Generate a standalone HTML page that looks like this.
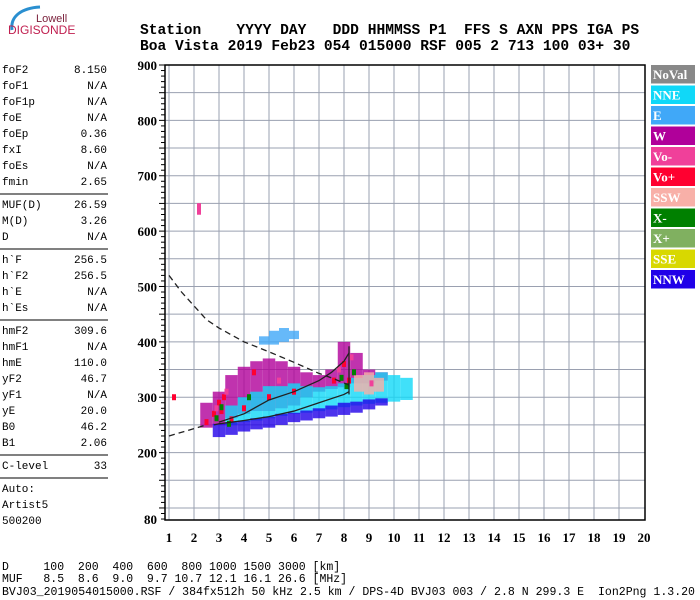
<!DOCTYPE html>
<html><head><meta charset="utf-8"><style>
body{margin:0;background:#fff;width:700px;height:600px;overflow:hidden;font-family:"Liberation Mono",monospace;}
svg{position:absolute;left:0;top:0}
</style></head><body>
<svg id="c" width="700" height="600" xmlns="http://www.w3.org/2000/svg">
<g>
<path d="M12 30 C10 16 22 8 40 7" stroke="#2a8fd0" stroke-width="3" fill="none"/>
<text x="36" y="22" font-family="Liberation Sans,sans-serif" font-size="11" fill="#7a1f3a">Lowell</text>
<text x="8" y="34" font-family="Liberation Sans,sans-serif" font-size="12" fill="#c02050">DIGISONDE</text>
</g>
<g font-family="Liberation Mono,monospace" font-size="14.6" font-weight="bold" fill="#000">
<text x="140" y="34" xml:space="preserve">Station    YYYY DAY   DDD HHMMSS P1  FFS S AXN PPS IGA PS</text>
<text x="140" y="50" xml:space="preserve">Boa Vista 2019 Feb23 054 015000 RSF 005 2 713 100 03+ 30</text>
</g>
<g id="side" font-family="Liberation Mono,monospace" font-size="11" fill="#000"></g>
<g id="plot"></g>
<g font-family="Liberation Mono,monospace" font-size="11.5" fill="#000">
<text x="2" y="570" xml:space="preserve">D     100  200  400  600  800 1000 1500 3000 [km]</text>
<text x="2" y="582" xml:space="preserve">MUF   8.5  8.6  9.0  9.7 10.7 12.1 16.1 26.6 [MHz]</text>
<text x="2" y="595" textLength="693" lengthAdjust="spacingAndGlyphs" xml:space="preserve">BVJ03_2019054015000.RSF / 384fx512h 50 kHz 2.5 km / DPS-4D BVJ03 003 / 2.8 N 299.3 E  Ion2Png 1.3.20</text>
</g>
</svg>
<script>
const NS="http://www.w3.org/2000/svg";
const sideLabels=["foF2","foF1","foF1p","foE","foEp","fxI","foEs","fmin","|","MUF(D)","M(D)","D","|","h`F","h`F2","h`E","h`Es","|","hmF2","hmF1","hmE","yF2","yF1","yE","B0","B1","|","C-level","|","Auto:","Artist5","500200"];
const sideValues=["8.150","N/A","N/A","N/A","0.36","8.60","N/A","2.65","","26.59","3.26","N/A","","256.5","256.5","N/A","N/A","","309.6","N/A","110.0","46.7","N/A","20.0","46.2","2.06","","33","","","",""];
const freqTicks=[1,2,3,4,5,6,7,8,9,10,11,12,13,14,15,16,17,18,19,20];
const hTicks=[80,200,300,400,500,600,700,800,900];
const nnwF=[3,3.5,4,4.5,5,5.5,6,6.5,7,7.5,8,8.5,9,9.5];
const nnwLo=[228,232,238,242,245,250,255,258,262,265,268,272,278,285];
const nnwHi=[252,255,258,262,265,270,272,276,280,285,290,292,296,298];
const nneF=[3.5,4,4.5,5,5.5,6,6.5,7,7.5,8,8.5,9,9.5,10,10.5];
const nneLo=[250,255,258,262,266,270,272,275,278,282,285,288,290,292,295];
const nneHi=[285,300,310,320,320,325,320,318,320,325,335,340,345,340,335];
const wF=[2.5,3,3.5,4,4.5,5,5.5,6,6.5,7,7.5,8,8.5,9,9.5];
const wLo=[245,250,262,270,275,275,280,285,300,310,315,318,325,325,330];
const wHi=[290,310,340,355,365,370,365,355,345,340,350,400,380,350,345];
const eF=[4.8,5.2,5.6,6.0];
const eLo=[395,395,400,405];
const eHi=[410,420,425,420];
const sswF=[8.6,9,9.4];
const sswLo=[310,305,310];
const sswHi=[340,345,335];
const redF=[2.5,2.8,3,3.2,3.5,4,5,6,8,8.2,1.2,3.1,4.4,7.6];
const redH=[255,270,290,300,260,280,300,310,360,330,300,275,345,330];
const pinkF=[2.2,2.2,2.9,3.3,5.4,7.8,8.3,9.1];
const pinkH=[645,635,280,310,330,350,372,325];
const greenF=[2.9,3.1,3.4,4.2,7.9,8.1,8.4];
const greenH=[262,282,252,300,335,320,345];
const lowF=[2.8,3,4,5,6,7,8,8.2];
const lowH=[250,252,258,265,275,290,305,310];
const upF=[3,4,5,6,7,7.5,8,8.2];
const upH=[255,270,295,310,330,345,365,380];
const dDescF=[1,1.5,2,2.5,3,4,5,6,7,7.5,8.2];
const dDescH=[520,490,465,440,425,400,382,363,343,335,322];
const dAscF=[1,2.5];
const dAscH=[230,250];
const legendNames=["NoVal","NNE","E","W","Vo-","Vo+","SSW","X-","X+","SSE","NNW"];
const legendColors=["#888888","#10d8f8","#40a8f8","#b0009a","#f0409a","#ff0030","#f8b0a8","#008000","#80b060","#d8d800","#2000e8"];

const L=165,R=645,T=65,B=520;
function X(f){return 169+(f-1)*25;}
function Y(h){return T+(900-h)*0.5537;}
function mk(tag,attrs,parent){const e=document.createElementNS(NS,tag);for(const k in attrs)e.setAttribute(k,attrs[k]);parent.appendChild(e);return e;}
const side=document.getElementById('side');
let y=73;
sideLabels.forEach((l,i)=>{
  if(l==="|"){const ln=mk('line',{x1:0,x2:108,y1:y-7,y2:y-7,stroke:'#000'},side);
    
    
    y+=7;return;}
  const t=mk('text',{x:2,y:y},side);t.textContent=l;
  
  
  if(sideValues[i]){const v=mk('text',{x:107,y:y,'text-anchor':'end'},side);v.textContent=sideValues[i];
    
    }
  y+=16;
});
const P=document.getElementById('plot');


for(let h=100;h<=850;h+=50){const g=mk('line',{x1:L,x2:R,y1:Y(h),y2:Y(h),stroke:'#9aa0b0','stroke-width':1},P);
  
  }
freqTicks.forEach(f=>{if(f<20){const g=mk('line',{x1:X(f),x2:X(f),y1:T,y2:B,stroke:'#9aa0b0'},P);
  
  }});
for(let h=80;h<=900;h+=10){mk('line',{x1:L-(h%50==0?6:4),x2:L,y1:Y(h),y2:Y(h),stroke:'#000'},P);}
hTicks.forEach(h=>{const t=mk('text',{x:L-8,y:Y(h)+5,'text-anchor':'end','font-family':'Liberation Serif,serif','font-size':13,'font-weight':'bold'},P);t.textContent=h;
  
  });
freqTicks.forEach(f=>{const t=mk('text',{x:X(f),y:542,'text-anchor':'middle','font-family':'Liberation Serif,serif','font-size':13,'font-weight':'bold'},P);t.textContent=f;
  
  });
function cols(F,Lo,Hi,color,name,w){F.forEach((f,i)=>{const r=mk('rect',{x:X(f)-w*25/2,y:Y(Hi[i]),width:w*25,height:Y(Lo[i])-Y(Hi[i]),fill:color,opacity:0.8},P);
  
  });}
function pts(F,H,color,name){F.forEach((f,i)=>{const r=mk('rect',{x:X(f)-2,y:Y(H[i])-3,width:4,height:6,fill:color},P);
  
  });}
cols(wF,wLo,wHi,'#b0009a','echo-w',0.5);
cols(nneF,nneLo,nneHi,'#10d8f8','echo-nne',0.5);
cols(nnwF,nnwLo,nnwHi,'#2000e8','echo-nnw',0.5);
cols(eF,eLo,eHi,'#40a8f8','echo-e',0.4);
cols(sswF,sswLo,sswHi,'#f8b0a8','echo-ssw',0.4);
pts(redF,redH,'#ff0030','echo-vo-plus');
pts(pinkF,pinkH,'#f0409a','echo-vo-minus');
pts(greenF,greenH,'#008000','echo-x-minus');
function line(F,H,name,dash){const d=F.map((f,i)=>(i?'L':'M')+X(f)+' '+Y(H[i])).join(' ');
  const p=mk('path',{d:d,stroke:'#222',fill:'none','stroke-width':1.3},P);if(dash)p.setAttribute('stroke-dasharray','6 4');
  
  }
line(lowF,lowH,'trace-lower');
line(upF,upH,'trace-upper');
line([8.2,8.2],[305,392],'trace-vertical');
line(dDescF,dDescH,'profile-dashed-upper',true);
line(dAscF,dAscH,'profile-dashed-lower',true);
const fr=mk('rect',{x:L,y:T,width:R-L,height:B-T,fill:'none',stroke:'#000','stroke-width':1.5},P);


legendNames.forEach((n,i)=>{const yy=65+i*20.5;
  const r=mk('rect',{x:651,y:yy,width:44,height:18.5,fill:legendColors[i]},P);
  
  
  const t=mk('text',{x:653,y:yy+14,fill:'#fff','font-family':'Liberation Serif,serif','font-size':13,'font-weight':'bold'},P);t.textContent=n;
  
  });
</script>
</body></html>
